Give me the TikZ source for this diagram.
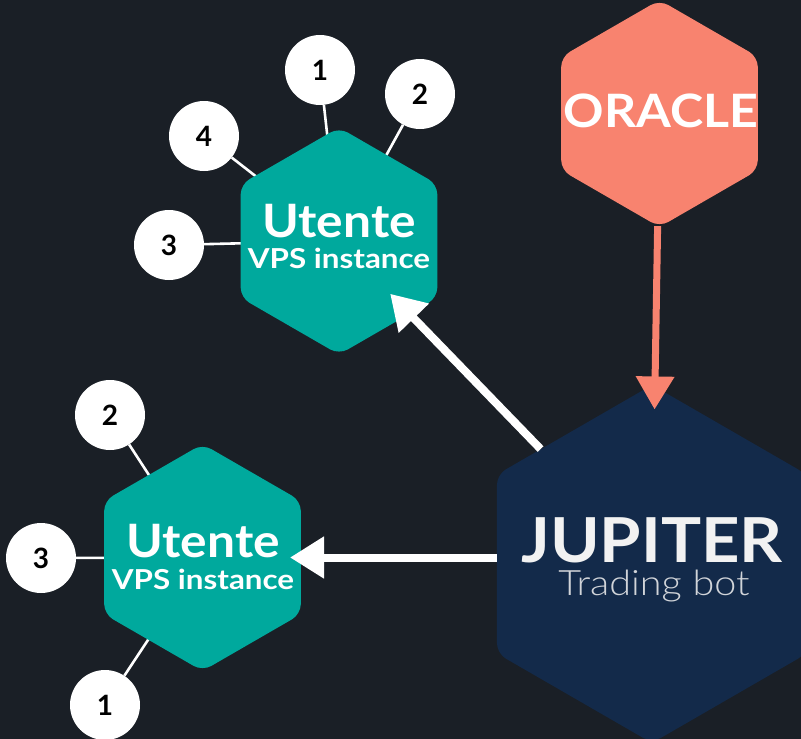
\documentclass[tikz,border=0pt]{standalone}
\usepackage{graphicx}
\usepackage{fontspec}
\setmainfont{Lato}
\newfontfamily\lightfont{Lato Light}
\usetikzlibrary{shapes.geometric,arrows.meta}
\definecolor{bgc}{HTML}{1A1F26}
\definecolor{hexteal}{HTML}{00A99D}
\definecolor{navyc}{HTML}{132A4A}
\definecolor{salmonc}{HTML}{F8836F}
\definecolor{offwhite}{HTML}{F2F2F2}
\pgfdeclarelayer{bglayer}
\pgfdeclarelayer{linklayer}
\pgfsetlayers{bglayer,linklayer,main}
\tikzset{
  hex/.style={regular polygon, regular polygon sides=6, shape border rotate=30,
    inner sep=0pt, rounded corners=10pt, draw=none},
  smallhex/.style={hex, minimum size=227pt},
  bighex/.style={hex, minimum size=358pt},
  numdot/.style={circle, fill=white, minimum size=70pt, inner sep=0pt,
    text=black, font=\bfseries\fontsize{28}{28}\selectfont},
  link/.style={white, line width=2.6pt, shorten >=-8pt},
  warrow/.style={white, line width=8pt, -{Triangle[length=34pt,width=40pt]}},
  oarrow/.style={salmonc, line width=7pt, -{Triangle[length=33pt,width=37pt]}},
  titlefont/.style={font=\bfseries\fontsize{46}{46}\selectfont, text=white, anchor=base, inner sep=0pt, text depth=0pt},
  subfont/.style={font=\bfseries\fontsize{27.5}{28}\selectfont, text=white, anchor=base, inner sep=0pt}
}
\begin{document}
\begin{tikzpicture}[x=1pt,y=-1pt]
\begin{pgfonlayer}{bglayer}
  \fill[bgc] (0,0) rectangle (801,739);
\end{pgfonlayer}
\useasboundingbox (0,0) rectangle (801,739);

% hexagons
\node[smallhex, fill=hexteal] (u1) at (339,241) {};
\node[smallhex, fill=hexteal] (u2) at (202.5,557.5) {};
\node[smallhex, fill=salmonc] (orc) at (659.5,113.5) {};
\node[bighex, fill=navyc] (jp) at (652,564) {};

% labels
\node[titlefont] (u1t) at (339,237) {\scalebox{1.08}[1]{Utente}};
\node[subfont] (u1s) at (339,268) {\scalebox{1.14}[1]{VPS instance}};
\node[titlefont] (u2t) at (203,557) {\scalebox{1.08}[1]{Utente}};
\node[subfont] (u2s) at (203,589) {\scalebox{1.14}[1]{VPS instance}};
\node[titlefont] (ort) at (661,127) {\scalebox{1.09}[1]{ORACLE}};
\node[font=\bfseries\fontsize{62}{62}\selectfont, text=offwhite, anchor=base, inner sep=0pt, text depth=0pt] (jpt) at (652,562) {\scalebox{1.08}[1]{JUPITER}};
\node[font=\lightfont\fontsize{35}{35}\selectfont, text=offwhite!85!navyc, anchor=base, inner sep=0pt] (jps) at (654,595) {\scalebox{1.13}[1]{Trading bot}};

% numbered circles
\node[numdot] (a1) at (320,70) {1};
\node[numdot] (a2) at (420,94) {2};
\node[numdot] (a4) at (204,136) {4};
\node[numdot] (a3) at (169,245) {3};
\node[numdot] (b2) at (110,415) {2};
\node[numdot] (b3) at (41,558) {3};
\node[numdot] (b1) at (105,705) {1};

\begin{pgfonlayer}{linklayer}
  \draw[link] (a1) -- (u1);
  \draw[link] (a2) -- (u1);
  \draw[link] (a4) -- (u1);
  \draw[link] (a3) -- (u1);
  \draw[link] (b2) -- (u2);
  \draw[link] (b3) -- (u2);
  \draw[link] (b1) -- (u2);
\end{pgfonlayer}

% arrows
\draw[warrow, shorten >=-28pt] (jp) -- (u1);
\coordinate (hstart) at (jp.west |- u2.east);
\draw[warrow, shorten >=-11pt] (hstart) -- (u2.east);
\draw[oarrow, shorten >=-23pt] (orc) -- (jp);
\end{tikzpicture}
\end{document}
